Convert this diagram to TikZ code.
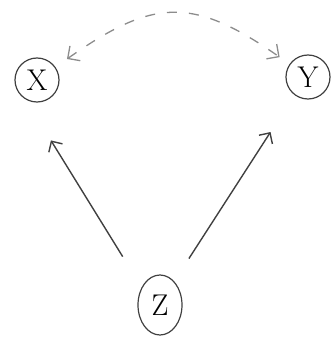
\documentclass[tikz,border=0pt]{standalone}
\usetikzlibrary{arrows.meta,shapes.geometric}
\begin{document}
\begin{tikzpicture}[x=1pt,y=1pt,
  circnode/.style={draw=black!75, line width=1.2pt, circle, minimum size=44pt, inner sep=0pt, font=\fontsize{30}{34}\selectfont},
  ellnode/.style={draw=black!75, line width=1.2pt, ellipse, minimum width=44pt, minimum height=60pt, inner sep=0pt, font=\fontsize{30}{34}\selectfont},
  solidarrow/.style={draw=black!75, line width=1.4pt, -{Straight Barb[length=8pt,width=16pt]}},
  dasharrow/.style={draw=black!45, line width=1.3pt, dash pattern=on 10pt off 12pt,
     {Straight Barb[length=9pt,width=18pt]}-{Straight Barb[length=9pt,width=18pt]}}
]
\useasboundingbox (0,0) rectangle (336,338);
\node[circnode] (X) at (37,258) {X};
\node[circnode] (Y) at (308,261) {Y};
\node[ellnode] (Z) at (160,33) {Z};
\draw[solidarrow, shorten <=36pt, shorten >=48pt] (Z.136) -- (X.-120);
\draw[solidarrow, shorten <=27pt, shorten >=44pt] (Z.59) -- (Y.-127);
\draw[dasharrow, shorten <=14pt, shorten >=12pt] (X.35) to[out=35,in=145,looseness=1.3] (Y.145);
\end{tikzpicture}
\end{document}
